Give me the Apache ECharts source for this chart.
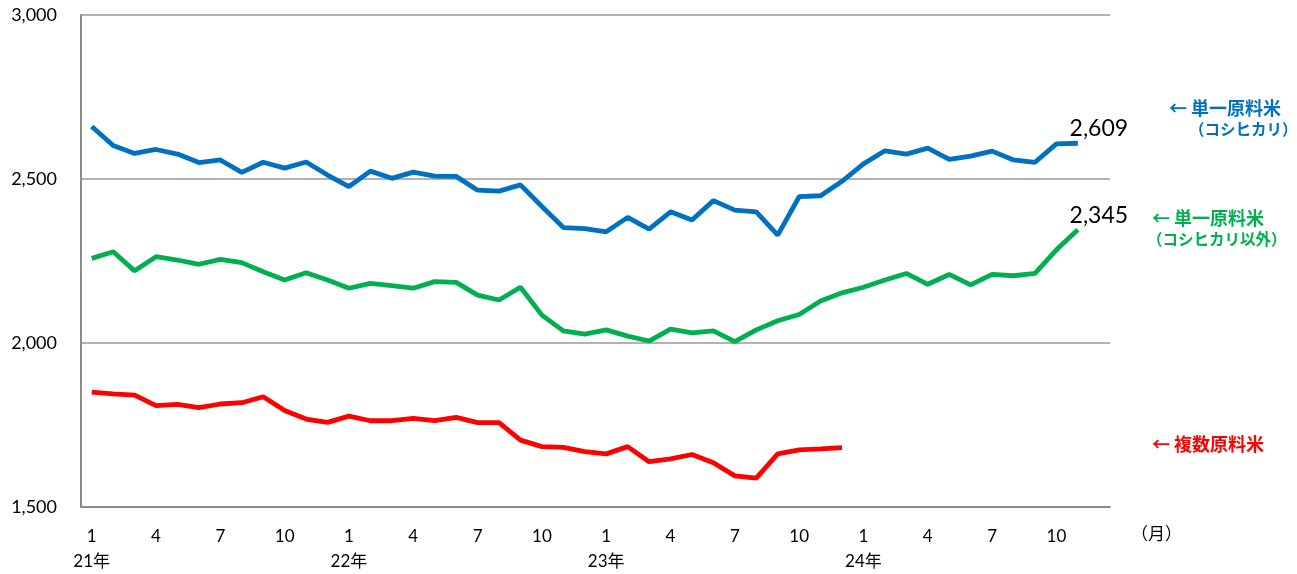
<!DOCTYPE html>
<html>
<head>
<meta charset="utf-8">
<script src="https://cdn.jsdelivr.net/npm/echarts@6/dist/echarts.min.js"></script>
<style>
  html, body { margin: 0; padding: 0; background: #fff; overflow: hidden; }
  #chart { width: 1297px; height: 574px; }
</style>
</head>
<body>
<div id="chart"></div>
<script>
// Years and months on the horizontal axis (Jan 2021 – Dec 2024)
const years = ['21年', '22年', '23年', '24年'];
const months = [1, 2, 3, 4, 5, 6, 7, 8, 9, 10, 11, 12];

// 単一原料米（コシヒカリ）
const koshihikari = [
  2660, 2602, 2578, 2590, 2576, 2550, 2558, 2520, 2551, 2533, 2552, 2512,
  2477, 2524, 2502, 2521, 2509, 2508, 2466, 2463, 2482, 2416, 2352, 2349,
  2339, 2383, 2347, 2400, 2375, 2434, 2405, 2400, 2329, 2446, 2449, 2493,
  2546, 2586, 2576, 2594, 2560, 2570, 2585, 2558, 2551, 2607, 2609
];

// 単一原料米（コシヒカリ以外）
const otherSingle = [
  2258, 2278, 2220, 2263, 2253, 2240, 2255, 2245, 2217, 2192, 2214, 2192,
  2167, 2182, 2175, 2167, 2187, 2185, 2146, 2131, 2170, 2085, 2037, 2027,
  2040, 2021, 2006, 2042, 2031, 2037, 2004, 2040, 2068, 2087, 2128, 2153,
  2170, 2192, 2212, 2179, 2209, 2177, 2209, 2205, 2212, 2284, 2345
];

// 複数原料米
const blended = [
  1850, 1845, 1841, 1809, 1813, 1803, 1814, 1818, 1836, 1794, 1768, 1758,
  1777, 1763, 1763, 1770, 1763, 1773, 1757, 1757, 1704, 1684, 1682, 1669,
  1662, 1684, 1638, 1647, 1660, 1635, 1595, 1588, 1662, 1674, 1677, 1681
];

// Y-axis range and step
const yMin = 1500, yMax = 3000, yStep = 500;

const categories = [];
years.forEach(y => months.forEach(m => categories.push({ year: y, month: m })));
const catNames = categories.map(c => c.year + c.month + '月');

// Only the latest point of a series carries a value label
function withEndLabel(arr) {
  return arr.map((v, i) => i === arr.length - 1
    ? { value: v, label: { show: true, position: 'top', offset: [21, 2],
        formatter: p => p.value.toLocaleString('en-US'),
        fontFamily: 'Lato, sans-serif', fontSize: 23, color: '#000' } }
    : v);
}

const chart = echarts.init(document.getElementById('chart'), null, { renderer: 'canvas' });
const axisGray = '#8c8c8c';
const jpFont = '"Noto Sans CJK JP", sans-serif';

chart.setOption({
  animation: false,
  grid: { left: 81, top: 15, width: 1029, height: 492, containLabel: false },
  xAxis: {
    type: 'category',
    data: catNames,
    boundaryGap: true,
    axisLine: { show: true, lineStyle: { color: axisGray, width: 2 } },
    axisTick: { show: false },
    axisLabel: {
      interval: i => i % 3 === 0,
      margin: 17,
      fontFamily: 'Lato, "Noto Sans CJK JP", sans-serif',
      fontSize: 17,
      color: '#000',
      lineHeight: 25,
      formatter: (val, idx) => {
        const c = categories[idx];
        return c.month === 1 ? c.month + '\n' + c.year : String(c.month);
      }
    }
  },
  yAxis: {
    type: 'value',
    min: yMin, max: yMax, interval: yStep,
    axisLine: { show: true, lineStyle: { color: axisGray, width: 2 } },
    axisTick: { show: false },
    splitLine: { show: true, lineStyle: { color: '#9a9a9a', width: 1.5 } },
    axisLabel: {
      margin: 24,
      fontFamily: 'Lato, sans-serif',
      fontSize: 18,
      color: '#000',
      formatter: v => v.toLocaleString('en-US')
    }
  },
  series: [
    {
      name: '単一原料米（コシヒカリ）', type: 'line', data: withEndLabel(koshihikari),
      symbol: 'circle', symbolSize: 0, showSymbol: true,
      lineStyle: { color: '#0070C0', width: 4.8 }, itemStyle: { color: '#0070C0' }
    },
    {
      name: '単一原料米（コシヒカリ以外）', type: 'line', data: withEndLabel(otherSingle),
      symbol: 'circle', symbolSize: 0, showSymbol: true,
      lineStyle: { color: '#00B050', width: 4.8 }, itemStyle: { color: '#00B050' }
    },
    {
      name: '複数原料米', type: 'line', data: blended,
      symbol: 'none',
      lineStyle: { color: '#FF0000', width: 4.8 }, itemStyle: { color: '#FF0000' }
    }
  ],
  graphic: [
    { type: 'text', left: 1169, top: 99, style: { text: '← 単一原料米', fill: '#0070C0',
      font: 'bold 18px ' + jpFont } },
    { type: 'text', left: 1189, top: 121, style: { text: '（コシヒカリ）', fill: '#0070C0',
      font: 'bold 15.5px ' + jpFont } },
    { type: 'text', left: 1152, top: 209, style: { text: '← 単一原料米', fill: '#00B050',
      font: 'bold 18px ' + jpFont } },
    { type: 'text', left: 1147, top: 231, style: { text: '（コシヒカリ以外）', fill: '#00B050',
      font: 'bold 15.5px ' + jpFont } },
    { type: 'text', left: 1152, top: 435, style: { text: '← 複数原料米', fill: '#FF0000',
      font: 'bold 18px ' + jpFont } },
    { type: 'text', left: 1131, top: 525, style: { text: '（月）', fill: '#000',
      font: '17px ' + jpFont } }
  ]
});
</script>
</body>
</html>
